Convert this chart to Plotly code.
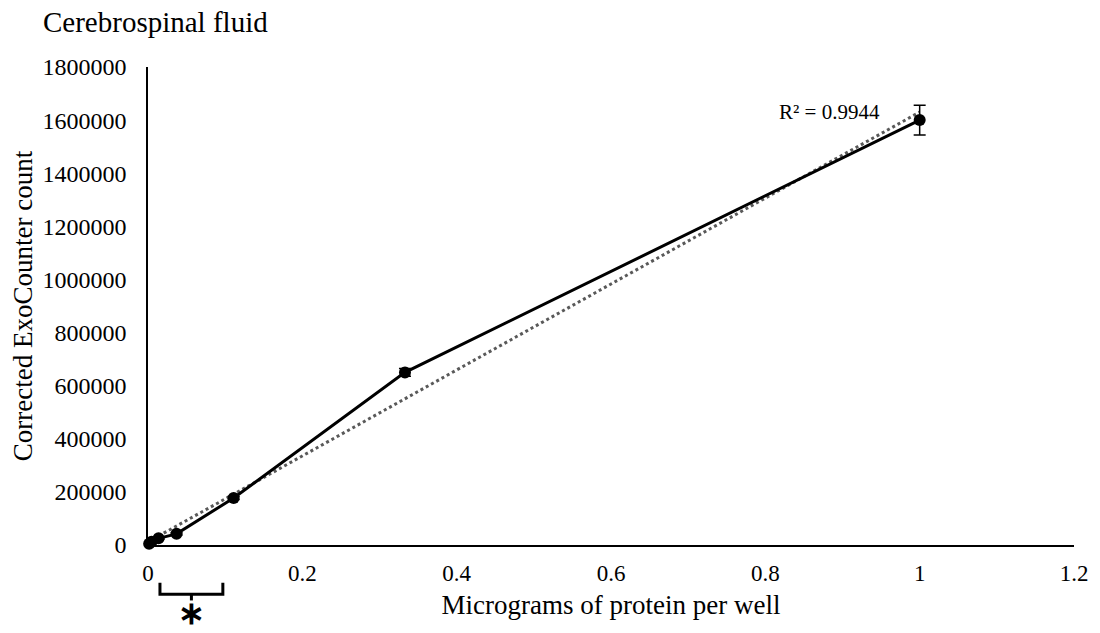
import numpy as np
import plotly.graph_objects as go

# Serial 1:3 dilution of cerebrospinal fluid protein
protein_ug = [0.0015, 0.0046, 0.0137, 0.037, 0.111, 0.333, 1.0]
exo_count = [5000, 12000, 25000, 42000, 177000, 650000, 1600000]
exo_err = [1500, 2000, 3000, 4000, 6000, 15000, 56000]

x_ticks = [0, 0.2, 0.4, 0.6, 0.8, 1, 1.2]
y_ticks = [0, 200000, 400000, 600000, 800000, 1000000, 1200000, 1400000, 1600000, 1800000]
r2_label = "R² = 0.9944"

FONT = "Liberation Serif, Times New Roman, serif"

# linear trendline (least squares) across the measured range
slope, intercept = np.polyfit(protein_ug, exo_count, 1)
trend_x = [0.0, max(protein_ug)]
trend_y = [intercept + slope * v for v in trend_x]

fig = go.Figure()

fig.add_trace(go.Scatter(
    x=trend_x, y=trend_y, mode="lines",
    line=dict(color="#595959", width=3, dash="dot"),
    hoverinfo="skip", showlegend=False, cliponaxis=False,
))

fig.add_trace(go.Scatter(
    x=protein_ug, y=exo_count, mode="lines+markers",
    line=dict(color="black", width=3),
    marker=dict(color="black", size=12),
    error_y=dict(type="data", array=exo_err, visible=True,
                 color="black", thickness=1.5, width=6),
    showlegend=False, cliponaxis=False,
))

fig.update_xaxes(
    range=[0, 1.2], tickvals=x_ticks, ticktext=[f"{v:g}" for v in x_ticks],
    showgrid=False, zeroline=False, showline=True, linecolor="black", linewidth=1.5,
    ticks="", ticklabelstandoff=7,
    tickfont=dict(family=FONT, size=23, color="black"),
    title=dict(text="Micrograms of protein per well",
               font=dict(family=FONT, size=27, color="black"), standoff=10),
)
fig.update_yaxes(
    range=[0, 1800000], tickvals=y_ticks, ticktext=[str(v) for v in y_ticks],
    showgrid=False, zeroline=False, showline=True, linecolor="black", linewidth=1.5,
    ticks="", ticklabelstandoff=15,
    tickfont=dict(family=FONT, size=24, color="black"),
    title=dict(text="Corrected ExoCounter count",
               font=dict(family=FONT, size=27, color="black"), standoff=2),
)

# bracket under the lowest dilutions, with asterisk
bx0, bx1 = 0.0155, 0.097
bmid = (bx0 + bx1) / 2
fig.add_shape(type="path", xref="x", yref="paper",
              path=f"M {bx0},-0.079 L {bx0},-0.103 L {bx1},-0.103 L {bx1},-0.079",
              line=dict(color="black", width=3))
fig.add_shape(type="line", xref="x", yref="paper",
              x0=bmid, x1=bmid, y0=-0.103, y1=-0.116,
              line=dict(color="black", width=3))

annotations = [
    dict(text="∗", xref="x", yref="paper", x=bmid, y=-0.181,
         xanchor="center", yanchor="bottom", borderpad=0,
         showarrow=False,
         font=dict(family=FONT, size=32, color="black", weight="bold")),
    dict(text="Cerebrospinal fluid", xref="paper", yref="paper",
         x=-0.116, y=1.094, xanchor="left", yanchor="middle", showarrow=False,
         font=dict(family=FONT, size=29, color="black")),
    dict(text=r2_label, xref="x", yref="y", x=0.951, y=1632000,
         xanchor="right", yanchor="middle", showarrow=False,
         font=dict(family=FONT, size=21, color="black")),
]

fig.update_layout(
    width=1100, height=633,
    margin=dict(l=148, r=23, t=67, b=88),
    paper_bgcolor="white", plot_bgcolor="white",
    font=dict(family=FONT, color="black"),
    annotations=annotations,
)

fig.write_html("out.html")
